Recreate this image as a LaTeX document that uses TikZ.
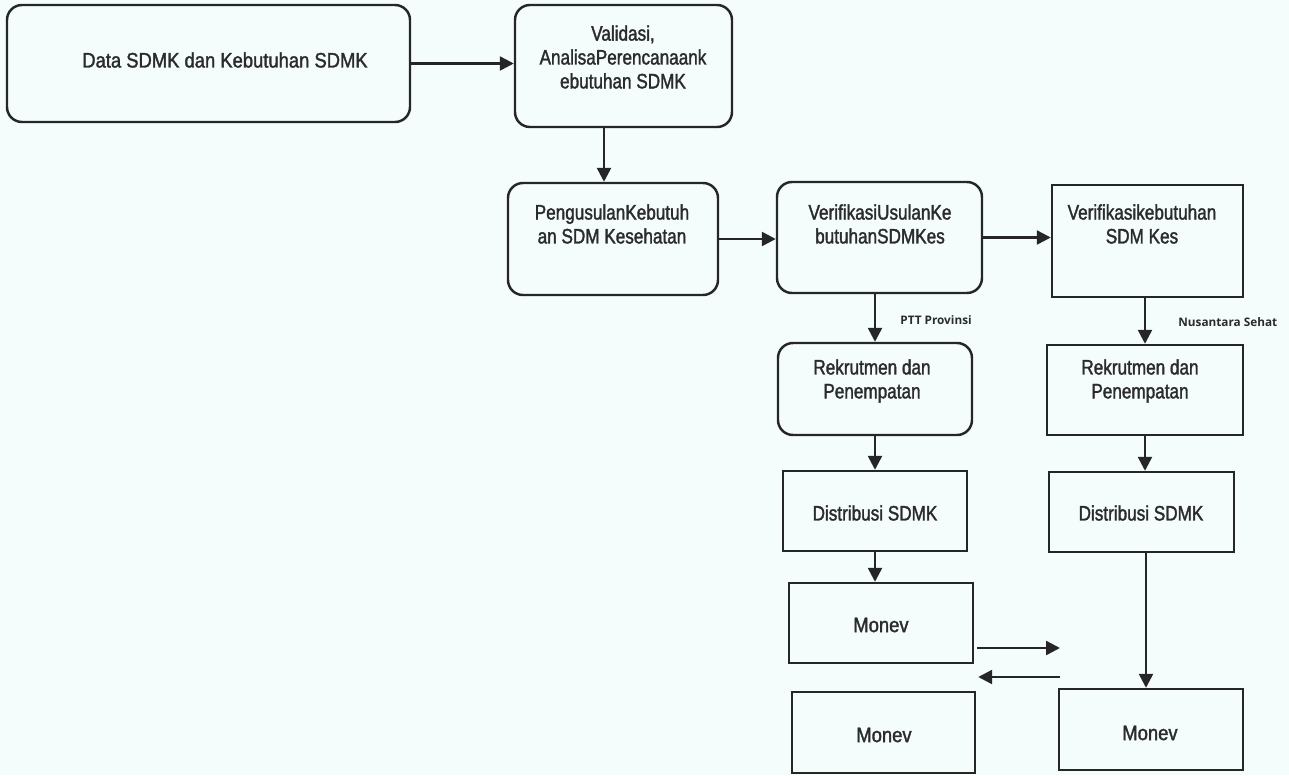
\documentclass[tikz,border=0pt]{standalone}
\usepackage{fontspec}
\setmainfont{Liberation Sans}[FakeStretch=0.82,FakeBold=1.6]
\newfontfamily\widefont{Liberation Sans}[FakeStretch=0.88,FakeBold=1.6]
\newfontfamily\lblfont{Open Sans}
\usetikzlibrary{arrows.meta,fit}
\definecolor{paper}{HTML}{F4FCFC}
\definecolor{ink}{HTML}{262626}
\definecolor{txt}{HTML}{2B2B2B}
\begin{document}
\begin{tikzpicture}[x=0.02cm,y=-0.02cm,
  box/.style={draw=ink,line width=1.4pt,inner sep=0pt},
  rbox/.style={box,rounded corners=0.3cm},
  boxtext/.style={text=txt,align=center,inner sep=0pt,
    font=\fontsize{11.9pt}{13.6pt}\selectfont},
  widetext/.style={boxtext,font=\widefont\fontsize{11.9pt}{13.6pt}\selectfont},
  lbl/.style={text=txt,inner sep=0pt,font=\lblfont\bfseries\fontsize{6.7pt}{8pt}\selectfont},
  arr/.style={draw=ink,line width=1.4pt,-{Triangle[length=0.28cm,width=0.28cm]}}]
% page
\fill[paper] (0,0) rectangle (1289,775);
\useasboundingbox (0,0) rectangle (1289,775);

% boxes
\node[rbox,fit={(7,5)(410,122)}] (data) {};
\node[widetext] (tdata) at (225,60) {Data SDMK dan Kebutuhan SDMK};

\node[rbox,fit={(515,5)(732,127)}] (valid) {};
\node[boxtext] (tvalid) at (623,57) {Validasi,\\AnalisaPerencanaank\\ebutuhan SDMK};

\node[rbox,fit={(508,183)(718,295)}] (peng) {};
\node[boxtext] (tpeng) at (612,224) {PengusulanKebutuh\\an SDM Kesehatan};

\node[rbox,fit={(777,182)(982,293)}] (verus) {};
\node[boxtext] (tverus) at (880,224) {VerifikasiUsulanKe\\butuhanSDMKes};

\node[box,fit={(1052,185)(1243,297)}] (verkeb) {};
\node[boxtext] (tverkeb) at (1142,224) {Verifikasikebutuhan\\SDM Kes};

\node[rbox,fit={(778,343)(972,435)}] (rek1) {};
\node[boxtext] (trek1) at (872,381) {Rekrutmen dan\\Penempatan};

\node[box,fit={(1047,345)(1243,435)}] (rek2) {};
\node[boxtext] (trek2) at (1140,381) {Rekrutmen dan\\Penempatan};

\node[box,fit={(783,471)(967,551)}] (dist1) {};
\node[boxtext] (tdist1) at (875,513) {Distribusi SDMK};

\node[box,fit={(1049,472)(1234,552)}] (dist2) {};
\node[boxtext] (tdist2) at (1141,513) {Distribusi SDMK};

\node[box,fit={(789,583)(973,663)}] (mon1) {};
\node[widetext] (tmon1) at (881,625) {Monev};

\node[box,fit={(792,692)(975,773)}] (mon2) {};
\node[widetext] (tmon2) at (884,735) {Monev};

\node[box,fit={(1059,689)(1243,770)}] (mon3) {};
\node[widetext] (tmon3) at (1150,733) {Monev};

% guide coordinates for off-centre connectors
\coordinate (cv) at (604,0);
\coordinate (cd2) at (1146,0);
\coordinate (e1) at (1060,648);
\coordinate (e2) at (1060,677);
\coordinate (s1) at (977,648);

% connectors
\draw[arr] (data.east) -- (data.east -| valid.west);
\draw[arr] (valid.south -| cv) -- (peng.north -| cv);
\draw[arr] (peng.east) -- (peng.east -| verus.west);
\draw[arr] (verus.east) -- (verus.east -| verkeb.west);
\draw[arr] (rek1.north |- verus.south) -- (rek1.north);
\draw[arr] (rek2.north |- verkeb.south) -- (rek2.north);
\draw[arr] (rek1.south) -- (rek1.south |- dist1.north);
\draw[arr] (rek2.south) -- (rek2.south |- dist2.north);
\draw[arr] (dist1.south) -- (dist1.south |- mon1.north);
\draw[arr] (dist2.south -| cd2) -- (mon3.north -| cd2);
\draw[arr] (s1) -- (e1);
\draw[arr] (e2) -- ([xshift=0.08cm]e2 -| mon1.east);

% branch labels
\node[lbl,anchor=west] (lptt) at (900,320) {PTT Provinsi};
\node[lbl,anchor=west] (lns) at (1178,322) {Nusantara Sehat};
\end{tikzpicture}
\end{document}
